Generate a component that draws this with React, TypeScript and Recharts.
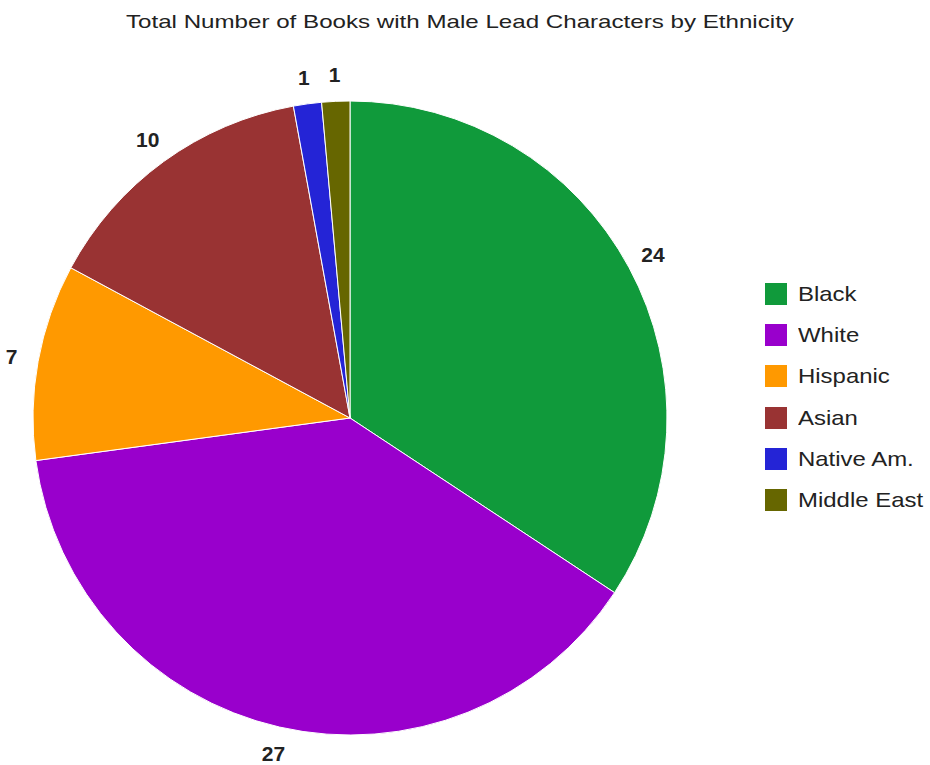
import { Cell, Pie, PieChart } from "recharts";

const ETHNICITIES = ["Black", "White", "Hispanic", "Asian", "Native Am.", "Middle East"];
const BOOK_COUNTS = [24, 27, 7, 10, 1, 1];
const SLICE_COLORS = ["#109a3b", "#9900cc", "#ff9900", "#993333", "#2424d6", "#666600"];

const data = ETHNICITIES.map((name, i) => ({ name, value: BOOK_COUNTS[i] }));

const FONT = "'Liberation Sans', Arial, sans-serif";
const RAD = Math.PI / 180;

// value label sits just outside the rim at the slice's mid angle
function renderLabel(props: any) {
  const { cx, cy, outerRadius, midAngle, value } = props;
  const r = outerRadius + 27;
  const x = cx + r * Math.cos(-midAngle * RAD);
  const y = cy + r * Math.sin(-midAngle * RAD);
  return (
    <text
      x={x}
      y={y}
      textAnchor="middle"
      dominantBaseline="central"
      fontFamily={FONT}
      fontWeight="bold"
      fontSize={21}
      fill="#222"
    >
      {value}
    </text>
  );
}

function LegendList() {
  return (
    <div
      style={{
        position: "absolute",
        left: 765,
        top: 273,
        fontFamily: FONT,
        fontSize: 21,
        color: "#222",
      }}
    >
      {data.map((d, i) => (
        <div key={d.name} style={{ display: "flex", alignItems: "center", height: 41.3 }}>
          <span
            style={{
              display: "inline-block",
              width: 22,
              height: 22,
              background: SLICE_COLORS[i],
              marginRight: 11,
            }}
          />
          <span
            style={{
              display: "inline-block",
              whiteSpace: "nowrap",
              transform: "scaleX(1.14)",
              transformOrigin: "left center",
            }}
          >
            {d.name}
          </span>
        </div>
      ))}
    </div>
  );
}

export default function App() {
  return (
    <div style={{ position: "absolute", left: 0, top: 0, width: 930, height: 765, background: "#fff" }}>
      <div
        style={{
          position: "absolute",
          left: 0,
          top: 11,
          width: 930,
          textAlign: "center",
          fontFamily: FONT,
          fontSize: 19,
          color: "#222",
          whiteSpace: "nowrap",
        }}
      >
        <span style={{ display: "inline-block", transform: "translateX(-5px) scaleX(1.27)" }}>
          Total Number of Books with Male Lead Characters by Ethnicity
        </span>
      </div>
      <PieChart width={930} height={765} margin={{ top: 0, right: 0, bottom: 0, left: 0 }}>
        <Pie
          data={data}
          dataKey="value"
          nameKey="name"
          cx={350}
          cy={418}
          outerRadius={317}
          startAngle={90}
          endAngle={-270}
          stroke="#fff"
          strokeWidth={1}
          label={renderLabel}
          labelLine={false}
          isAnimationActive={false}
        >
          {data.map((d, i) => (
            <Cell key={d.name} fill={SLICE_COLORS[i]} />
          ))}
        </Pie>
      </PieChart>
      <LegendList />
    </div>
  );
}
